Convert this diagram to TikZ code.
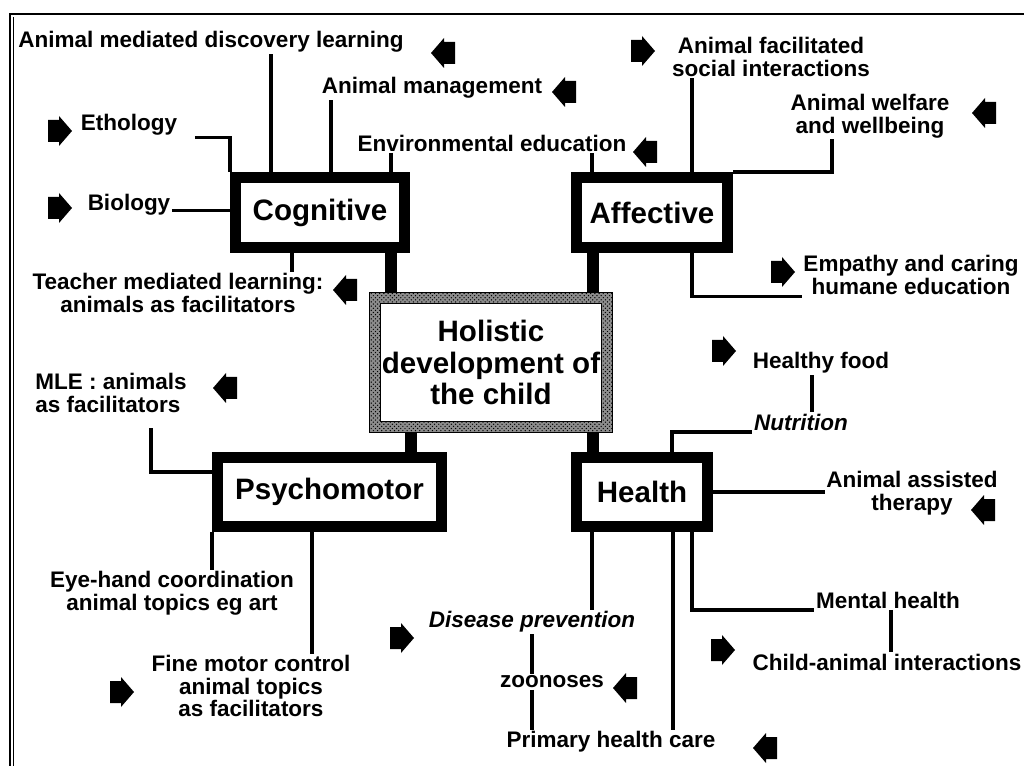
\documentclass[tikz,border=0pt]{standalone}
\usepackage{fontspec}
\setmainfont{Liberation Sans}
\usepackage{tikz}
\usetikzlibrary{positioning,patterns}

\begin{document}
\begin{tikzpicture}[x=0.025cm, y=-0.025cm,
  lab/.style={font=\fontsize{16}{16}\selectfont\bfseries, inner sep=1pt, align=center},
  topic/.style={draw, line width=0.275cm, inner sep=0pt, minimum height=1.75cm,
                font=\fontsize{21}{22}\selectfont\bfseries},
  link/.style={line width=0.08cm},
  bar/.style={line width=0.3cm},
  larr/.pic={\fill (-12,0) -- (1,-15) -- (1,-11) -- (12,-11) -- (12,11) -- (1,11) -- (1,15) -- cycle;},
  rarr/.pic={\fill (12,0) -- (-1,-15) -- (-1,-11) -- (-12,-11) -- (-12,11) -- (-1,11) -- (-1,15) -- cycle;}]
  \useasboundingbox (0,0) rectangle (1024,766);
  % frame
  \draw[line width=1.2pt] (10,766) -- (10,14) -- (1024,14);
  \draw[line width=0.4pt] (13,766) -- (13,17);

  % the five boxes
  \node (hol) [minimum width=6.05cm, minimum height=3.475cm, align=center,
               font=\fontsize{21}{22.4}\selectfont\bfseries] at (491,362.5)
               {Holistic\\development of\\the child};
  \node (cog) [topic, minimum width=4.225cm] at (320,212.5) {Cognitive};
  \node (aff) [topic, minimum width=3.775cm] at (652,212.5) {Affective};
  \node (psy) [topic, minimum width=5.6cm, minimum height=1.725cm] at (329.5,492) {Psychomotor};
  \node (hea) [topic, minimum width=3.275cm, minimum height=1.725cm] at (642,492) {Health};

  \fill[black!45, even odd rule] (hol.north west) rectangle (hol.south east)
    ([shift={(11,11)}]hol.north west) rectangle ([shift={(-11,-11)}]hol.south east);
  \fill[pattern=crosshatch dots, even odd rule] (hol.north west) rectangle (hol.south east)
    ([shift={(11,11)}]hol.north west) rectangle ([shift={(-11,-11)}]hol.south east);
  \draw[line width=0.6pt] (hol.north west) rectangle (hol.south east)
    ([shift={(11,11)}]hol.north west) rectangle ([shift={(-11,-11)}]hol.south east);

  \draw[bar] (391,0 |- cog.south) -- (391,0 |- hol.north);
  \draw[bar] (593,0 |- aff.south) -- (593,0 |- hol.north);
  \draw[bar] (411,0 |- hol.south) -- (411,0 |- psy.north);
  \draw[bar] (593,0 |- hol.south) -- (593,0 |- hea.north);

  % cognitive side
  \node (amdl) [lab] at (211,42) {Animal mediated discovery learning};
  \node (amgmt) [lab] at (432,88) {Animal management};
  \node (etho) [lab] at (129,125) {Ethology};
  \node (enved) [lab] at (492,143) {Environmental education};
  \node (biol) [lab] at (129,205) {Biology};
  \node (teach) [lab] at (178,293) {Teacher mediated learning:\\animals as facilitators};
  \pic at (443,53) {larr};
  \pic at (564,92) {larr};
  \pic at (645,152) {larr};
  \pic at (60,131) {rarr};
  \pic at (60,208) {rarr};
  \pic at (345,290) {larr};
  \draw[link] (271,0 |- amdl.south) -- (271,0 |- cog.north);
  \draw[link] (331,0 |- amgmt.south) -- (331,0 |- cog.north);
  \draw[link] (391,0 |- enved.south) -- (391,0 |- cog.north);
  \draw[link] (592,0 |- enved.south) -- (592,0 |- aff.north);
  \draw[link] ([xshift=0.4cm]etho.south east) -| (cog.north west);
  \draw[link] (biol.base east) -- (cog.west |- biol.base east);
  \draw[link] (292,0 |- cog.south) -- (292,0 |- teach.north);

  % affective side
  \node (afsi) [lab] at (771,57) {Animal facilitated\\social interactions};
  \node (awel) [lab] at (870,116) {Animal welfare\\and wellbeing};
  \node (emp) [lab] at (911,275) {Empathy and caring\\humane education};
  \pic at (643,51) {rarr};
  \pic at (984,113) {larr};
  \pic at (783,272) {rarr};
  \draw[link] (692,0 |- afsi.south) -- (692,0 |- aff.north);
  \draw[link] (832,0 |- awel.south) |- (aff.north east);
  \draw[link] (692,0 |- aff.south) |- (emp.south west);

  % psychomotor side
  \node (mle) [lab, align=left] at (111,393) {MLE : animals\\as facilitators};
  \node (eyeh) [lab] at (172,593) {Eye-hand coordination\\animal topics eg art};
  \node (fine) [lab] at (251,686) {Fine motor control\\animal topics\\as facilitators};
  \pic at (225,388) {larr};
  \pic at (122,692) {rarr};
  \draw[link] ([xshift=1cm,yshift=-0.35cm]mle.south) |- ([yshift=0.5cm]psy.west);
  \draw[link] (212,0 |- psy.south) -- (212,0 |- eyeh.north);
  \draw[link] (312,0 |- psy.south) -- (312,0 |- fine.north);

  % health side
  \node (hfood) [lab] at (821,363) {Healthy food};
  \node (nutr) [lab, font=\fontsize{16}{16}\selectfont\bfseries\itshape] at (801,422) {Nutrition};
  \node (aat) [lab] at (912,493) {Animal assisted\\therapy};
  \node (ment) [lab] at (888,600) {Mental health};
  \node (chan) [lab, anchor=west] at (751,662) {Child-animal interactions};
  \node (dis) [lab, font=\fontsize{16}{16}\selectfont\bfseries\itshape] at (532,622) {Disease prevention};
  \node (zoo) [lab] at (552,682) {zoonoses};
  \node (phc) [lab] at (611,742) {Primary health care};
  \pic at (724,351) {rarr};
  \pic at (983,510) {larr};
  \pic at (723,650) {rarr};
  \pic at (402,638) {rarr};
  \pic at (625,688) {larr};
  \pic at (765,748) {larr};
  \draw[link] (672,0 |- hea.north) |- (nutr.south west);
  \draw[link] (812,0 |- hfood.south) -- (812,0 |- nutr.north);
  \draw[link] (hea.east) -- (hea.east -| aat.west);
  \draw[link] (692,0 |- hea.south) |- (ment.south west);
  \draw[link] (891,0 |- ment.south) -- (891,0 |- chan.north);
  \draw[link] (592,0 |- hea.south) -- (592,0 |- dis.north);
  \draw[link] (532,0 |- dis.south) -- (532,0 |- zoo.north);
  \draw[link] (532,0 |- zoo.south) -- (532,0 |- phc.north);
  \draw[link] (673,0 |- hea.south) -- (673,0 |- phc.north);
\end{tikzpicture}
\end{document}
